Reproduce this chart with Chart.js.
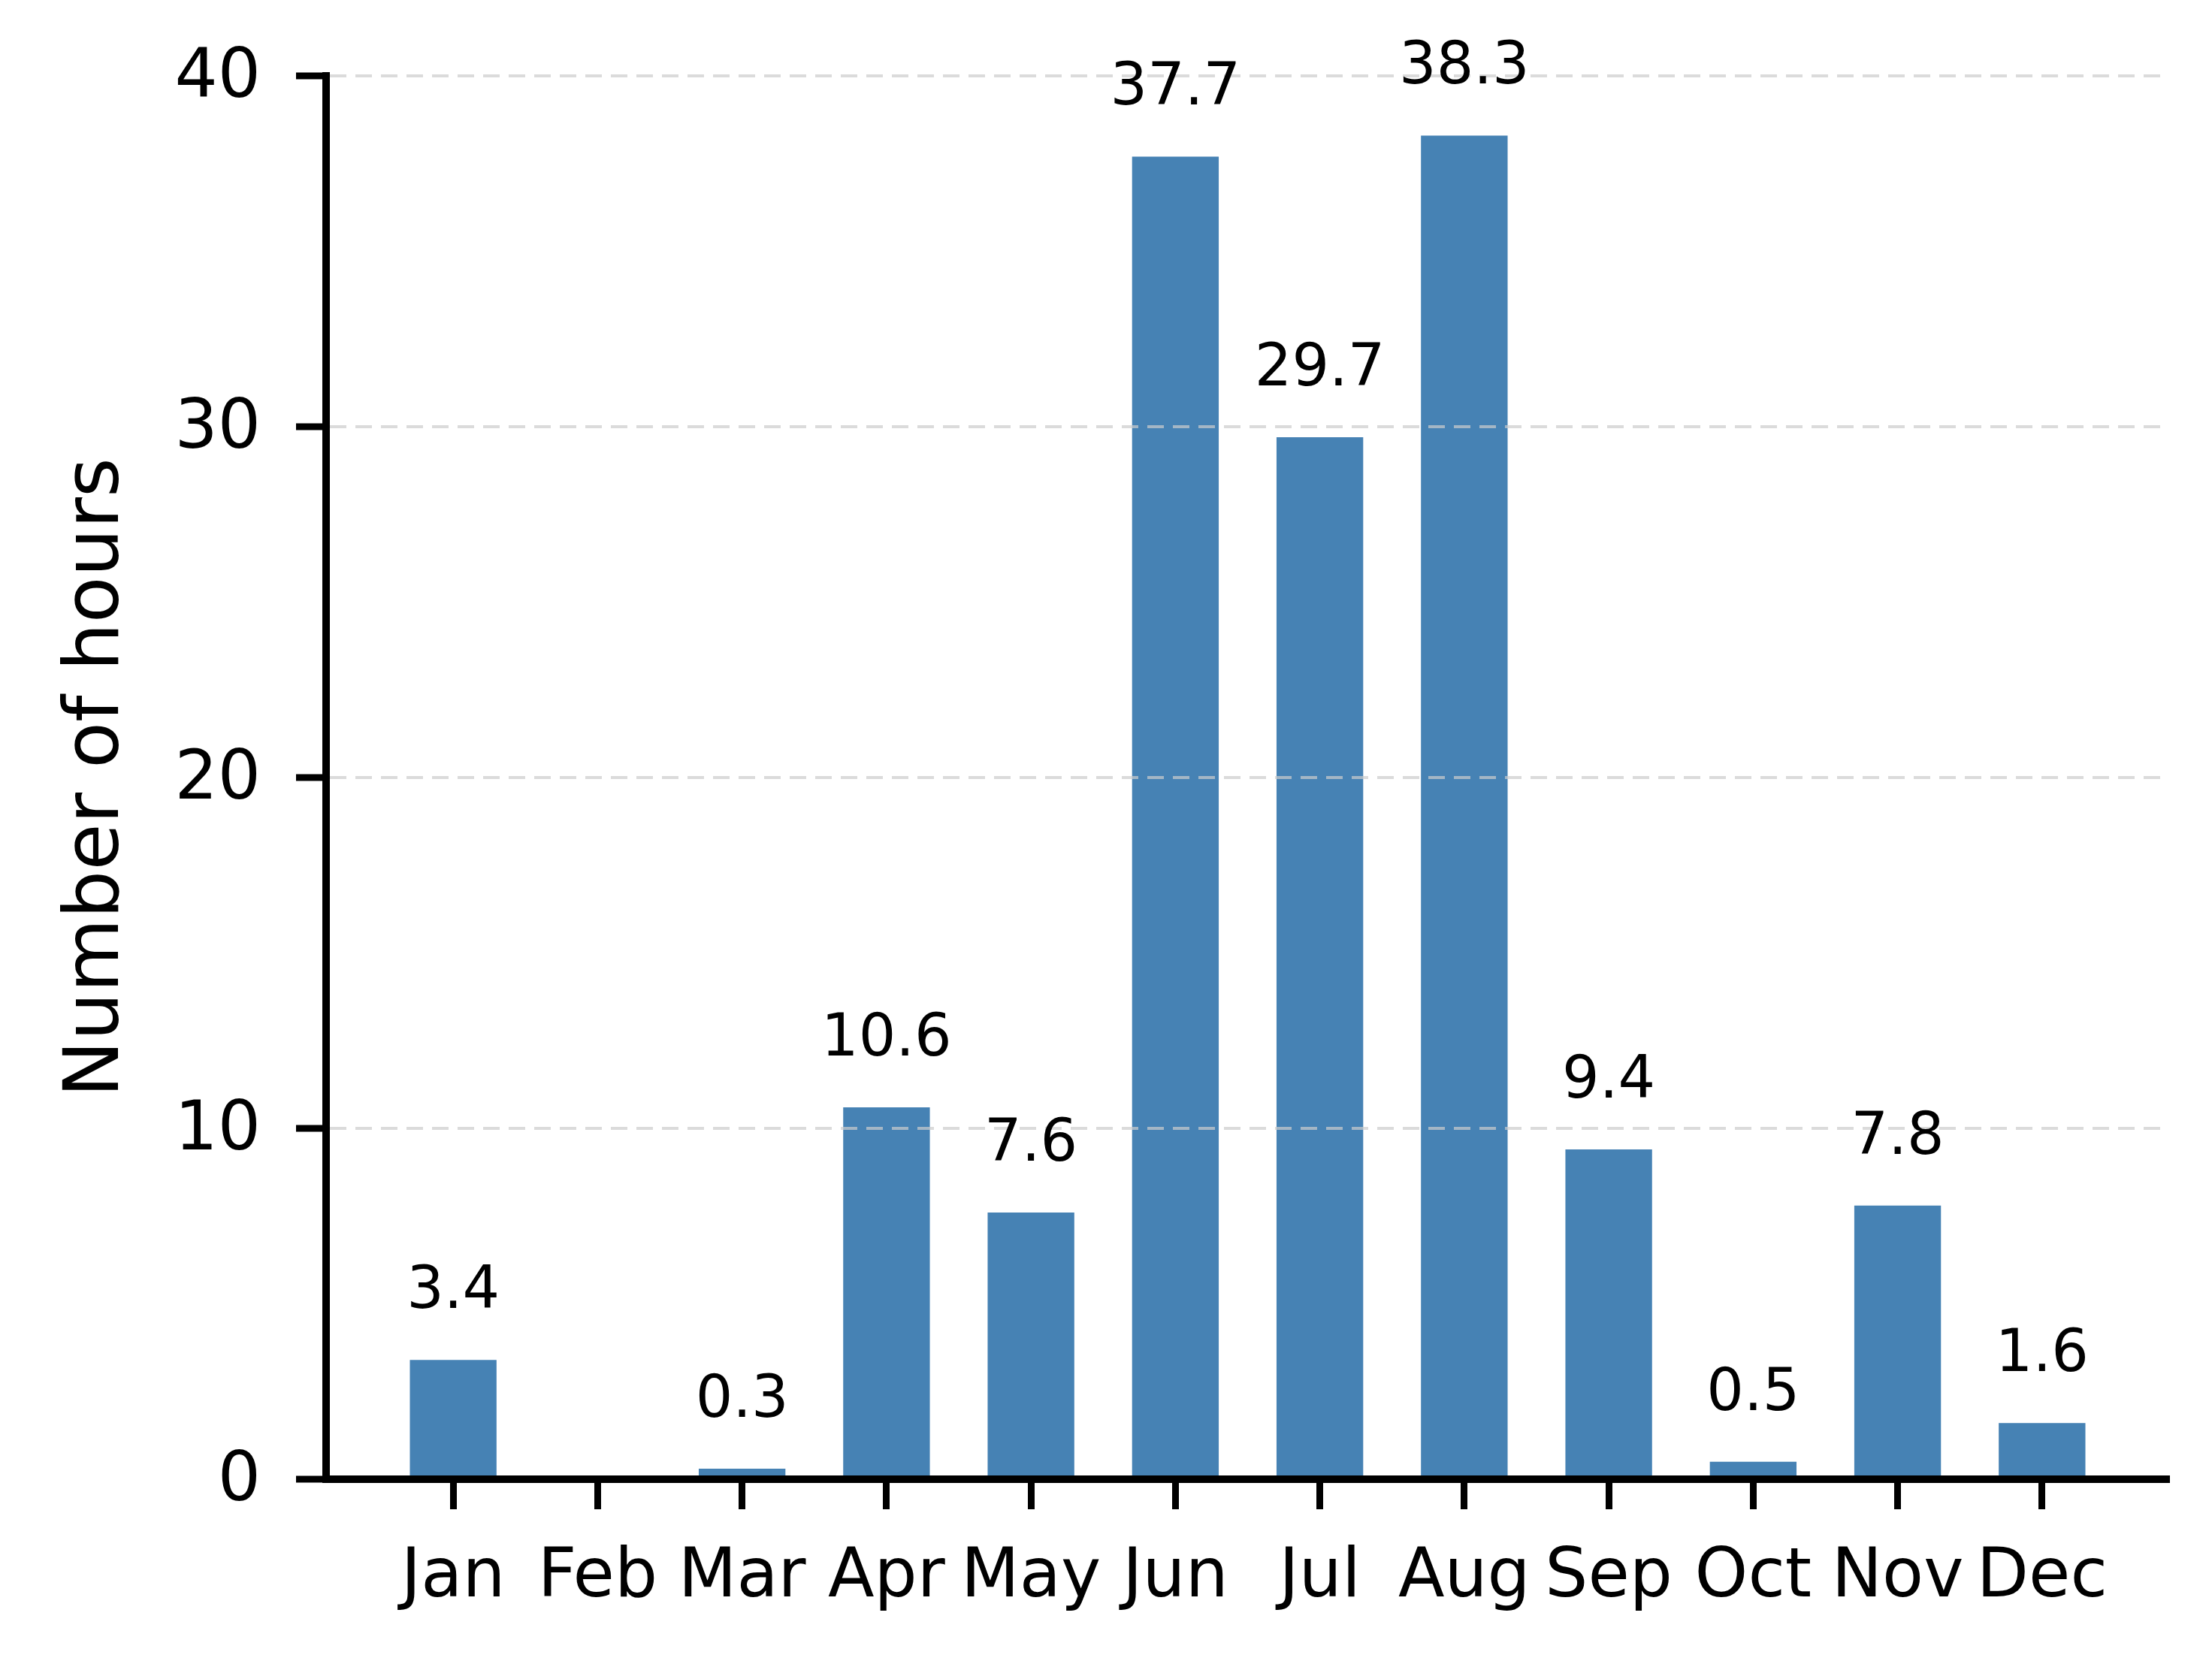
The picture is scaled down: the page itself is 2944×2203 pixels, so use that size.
<!DOCTYPE html>
<html>
<head>
<meta charset="utf-8">
<script src="https://cdn.jsdelivr.net/npm/chart.js@4/dist/chart.umd.min.js"></script>
<style>
  html, body { margin: 0; padding: 0; background: #fff; }
  canvas { display: block; }
</style>
</head>
<body>
<canvas id="chart" width="2944" height="2203"></canvas>
<script>
// data
const months = ["Jan", "Feb", "Mar", "Apr", "May", "Jun", "Jul", "Aug", "Sep", "Oct", "Nov", "Dec"];
const hours = [3.4, 0, 0.3, 10.6, 7.6, 37.7, 29.7, 38.3, 9.4, 0.5, 7.8, 1.6];
const yTicks = [0, 10, 20, 30, 40];

const FONT = "'DejaVu Sans', 'Liberation Sans', sans-serif";

// value labels above each bar (skip empty months)
const barLabels = {
  id: "barLabels",
  afterDraw(chart) {
    const ctx = chart.ctx;
    const meta = chart.getDatasetMeta(0);
    ctx.save();
    ctx.font = "78px " + FONT;
    ctx.fillStyle = "#000";
    ctx.textAlign = "center";
    ctx.textBaseline = "alphabetic";
    meta.data.forEach((bar, i) => {
      if (!hours[i]) return;
      ctx.fillText(hours[i].toFixed(1), bar.x, bar.y - 69);
    });
    ctx.restore();
  }
};

function init() {
  const ctx = document.getElementById("chart").getContext("2d");
  new Chart(ctx, {
    type: "bar",
    data: {
      datasets: [{
        label: "Number of hours",
        data: months.map((m, i) => ({ x: i, y: hours[i] })),
        backgroundColor: "#4682b4",
        borderWidth: 0,
        categoryPercentage: 1,
        barPercentage: 0.6
      }]
    },
    options: {
      responsive: false,
      devicePixelRatio: 1,
      animation: false,
      layout: { padding: { top: 101, right: 57, bottom: 0, left: 0 } },
      plugins: {
        legend: { display: false },
        tooltip: { enabled: false }
      },
      scales: {
        x: {
          type: "linear",
          offset: false,
          min: -0.88,
          max: 11.88,
          afterBuildTicks: (scale) => { scale.ticks = months.map((m, i) => ({ value: i })); },
          afterFit: (scale) => { scale.height = 234; },
          ticks: {
            autoSkip: false,
            maxRotation: 0,
            padding: 39,
            color: "#000",
            font: { family: FONT, size: 90 },
            callback: (v) => months[v]
          },
          grid: {
            offset: false,
            drawOnChartArea: false,
            drawTicks: true,
            tickLength: 40,
            tickWidth: 9,
            tickColor: "#000",
            tickBorderDash: []
          },
          border: { display: true, color: "#000", width: 10, z: 2 }
        },
        y: {
          min: 0,
          max: 40,
          afterBuildTicks: (scale) => { scale.ticks = yTicks.map(v => ({ value: v })); },
          afterFit: (scale) => { scale.width = 434; },
          ticks: {
            padding: 47,
            labelOffset: 5,
            color: "#000",
            font: { family: FONT, size: 90 }
          },
          grid: {
            z: 1,
            color: (c) => c.tick && c.tick.value === 0 ? "rgba(0,0,0,0)" : "rgba(204,204,204,0.7)",
            lineWidth: 4,
            tickLength: 40,
            tickWidth: 9,
            tickColor: "#000",
            tickBorderDash: []
          },
          border: { display: true, color: "#000", width: 10, dash: [22, 12], z: 2 },
          title: {
            display: true,
            text: "Number of hours",
            color: "#000",
            font: { family: FONT, size: 101 },
            padding: { top: 70, bottom: 0 }
          }
        }
      }
    },
    plugins: [barLabels]
  });
}
window.addEventListener("load", init);
</script>
</body>
</html>
